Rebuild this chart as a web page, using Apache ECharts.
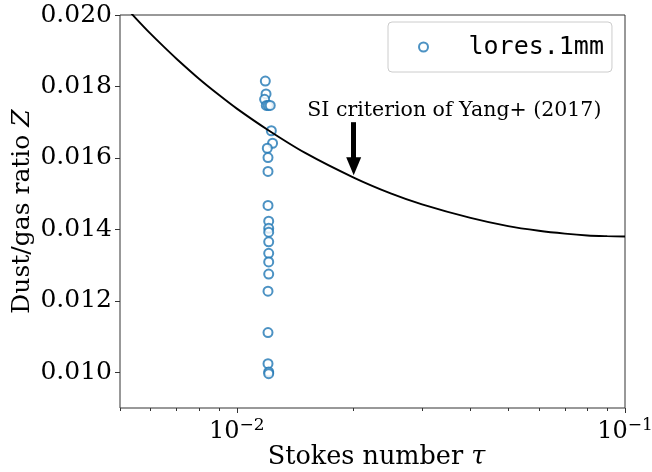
<!DOCTYPE html>
<html>
<head>
<meta charset="utf-8">
<script src="https://cdn.jsdelivr.net/npm/echarts@6/dist/echarts.min.js"></script>
<style>
html,body{margin:0;padding:0;background:#fff;}
#chart{width:652px;height:472px;}
</style>
</head>
<body>
<div id="chart"></div>
<script>
// Scatter data: lores.1mm
var stokesTau = [0.01184, 0.01189, 0.01179, 0.01191, 0.01205, 0.01219, 0.01227, 0.01236,
  0.01198, 0.01203, 0.01203, 0.01203, 0.01208, 0.01208, 0.01208, 0.01208, 0.01208,
  0.01208, 0.01208, 0.01203, 0.01203, 0.01203, 0.01208, 0.01208];
var dustGasZ = [0.01815, 0.01779, 0.01764, 0.01747, 0.01747, 0.01747, 0.01676, 0.01641,
  0.01627, 0.01601, 0.01562, 0.01467, 0.01423, 0.01403, 0.01392, 0.01365, 0.01333,
  0.01309, 0.01275, 0.01227, 0.01111, 0.01024, 0.01001, 0.00996];

// SI criterion curve (Yang+ 2017)
var critTau = [0.005, 0.0055, 0.006, 0.0065, 0.007, 0.008, 0.009, 0.010, 0.012, 0.015,
  0.020, 0.025, 0.030, 0.040, 0.050, 0.060, 0.070, 0.080, 0.090, 0.100];
var critZ = [0.02039, 0.01990, 0.01947, 0.01910, 0.01877, 0.01821, 0.01776, 0.01738,
  0.01679, 0.01614, 0.01545, 0.01500, 0.01470, 0.01432, 0.01409, 0.01396, 0.01388,
  0.01383, 0.01381, 0.01380];

// Axes / ticks
var xMajorTicks = [0.01, 0.1];
var xMinorTicks = [0.005, 0.006, 0.007, 0.008, 0.009, 0.02, 0.03, 0.04, 0.05, 0.06, 0.07, 0.08, 0.09];
var yTicks = [0.010, 0.012, 0.014, 0.016, 0.018, 0.020];

// Annotation
var annotText = 'SI criterion of Yang+ (2017)';
var annotTextAt = [0.01519, 0.01731];
var arrowFrom = [0.02, 0.01700];
var arrowTo = [0.02, 0.01577];
var seriesName = 'lores.1mm';

var SERIF = '"DejaVu Serif", serif';
var MONO = '"DejaVu Sans Mono", monospace';
var AX = '#333';

var scatterData = stokesTau.map(function (t, i) { return [t, dustGasZ[i]]; });
var critData = critTau.map(function (t, i) { return [t, critZ[i]]; });

var chart = echarts.init(document.getElementById('chart'), null, {renderer: 'canvas'});
chart.setOption({
  animation: false,
  backgroundColor: '#fff',
  grid: {
    left: 120, right: 27, top: 15, bottom: 64,
    show: true, borderColor: AX, borderWidth: 1,
    containLabel: false, outerBoundsMode: 'none'
  },
  legend: {
    data: [{name: seriesName, icon: 'emptyCircle'}],
    left: 388, top: 22,
    orient: 'vertical',
    padding: [12, 8, 12, 30],
    itemWidth: 50, itemHeight: 9,
    backgroundColor: 'rgba(255,255,255,0.8)',
    borderColor: '#cccccc', borderWidth: 1, borderRadius: 4,
    selectedMode: false,
    textStyle: {fontFamily: MONO, fontSize: 25, color: '#000', lineHeight: 26, padding: [0, 0, 0, 15]}
  },
  xAxis: [{
    type: 'log', logBase: 10, min: 0.005, max: 0.1,
    position: 'bottom',
    name: 'Stokes number {i|τ}',
    nameLocation: 'middle', nameGap: 36, nameMoveOverlap: false,
    nameTextStyle: {fontFamily: SERIF, fontSize: 25.5, color: '#000', padding: [0, 0, 0, 8],
      rich: {i: {fontFamily: SERIF, fontSize: 25.5, fontStyle: 'italic', color: '#000'}}},
    axisLine: {show: false},
    splitLine: {show: false},
    minorTick: {show: false},
    axisTick: {show: true, length: 5, lineStyle: {color: AX, width: 1}, customValues: xMajorTicks},
    axisLabel: {
      customValues: xMajorTicks, margin: 9,
      fontFamily: SERIF, fontSize: 24, color: '#000',
      formatter: function (v) { return '10{s|−' + Math.round(-Math.log10(v)) + '}'; },
      rich: {s: {fontFamily: SERIF, fontSize: 17, color: '#000', verticalAlign: 'top', padding: [0, 0, 12, 0]}}
    }
  }, {
    type: 'log', logBase: 10, min: 0.005, max: 0.1,
    position: 'bottom',
    axisLine: {show: false},
    splitLine: {show: false},
    axisLabel: {show: false},
    axisTick: {show: true, length: 3, lineStyle: {color: AX, width: 1}, customValues: xMinorTicks}
  }],
  yAxis: {
    type: 'value', min: 0.009, max: 0.020,
    name: 'Dust/gas ratio {i|Z}',
    nameLocation: 'middle', nameGap: 85, nameRotate: 90, nameMoveOverlap: false,
    nameTextStyle: {fontFamily: SERIF, fontSize: 25, color: '#000',
      rich: {i: {fontFamily: SERIF, fontSize: 25, fontStyle: 'italic', color: '#000'}}},
    axisLine: {show: false},
    splitLine: {show: false},
    axisTick: {show: true, length: 5, lineStyle: {color: AX, width: 1}, customValues: yTicks},
    axisLabel: {
      customValues: yTicks, margin: 8,
      fontFamily: SERIF, fontSize: 25, color: '#000',
      formatter: function (v) { return v.toFixed(3); }
    }
  },
  series: [{
    name: 'criterion',
    type: 'line',
    xAxisIndex: 0, yAxisIndex: 0,
    data: critData,
    showSymbol: false, symbol: 'none',
    smooth: 0.3,
    clip: true,
    silent: true,
    lineStyle: {color: '#000', width: 1.9},
    markLine: {
      silent: true, animation: false,
      symbol: ['none', 'triangle'], symbolSize: [15, 18],
      label: {show: false},
      lineStyle: {color: '#000', width: 5, type: 'solid'},
      emphasis: {disabled: true},
      data: [[{coord: arrowFrom}, {coord: arrowTo}]]
    },
    markPoint: {
      silent: true, animation: false,
      symbol: 'circle', symbolSize: 0,
      itemStyle: {color: 'rgba(0,0,0,0)'},
      label: {show: true, position: 'right', distance: 0,
        fontFamily: SERIF, fontSize: 20.5, color: '#000',
        formatter: function () { return annotText; }},
      data: [{coord: annotTextAt}]
    }
  }, {
    name: seriesName,
    type: 'scatter',
    xAxisIndex: 0, yAxisIndex: 0,
    data: scatterData,
    symbol: 'emptyCircle', symbolSize: 9,
    itemStyle: {color: '#1f77b4', borderColor: '#1f77b4', borderWidth: 1.2},
    emphasis: {disabled: true}
  }]
});
</script>
</body>
</html>
